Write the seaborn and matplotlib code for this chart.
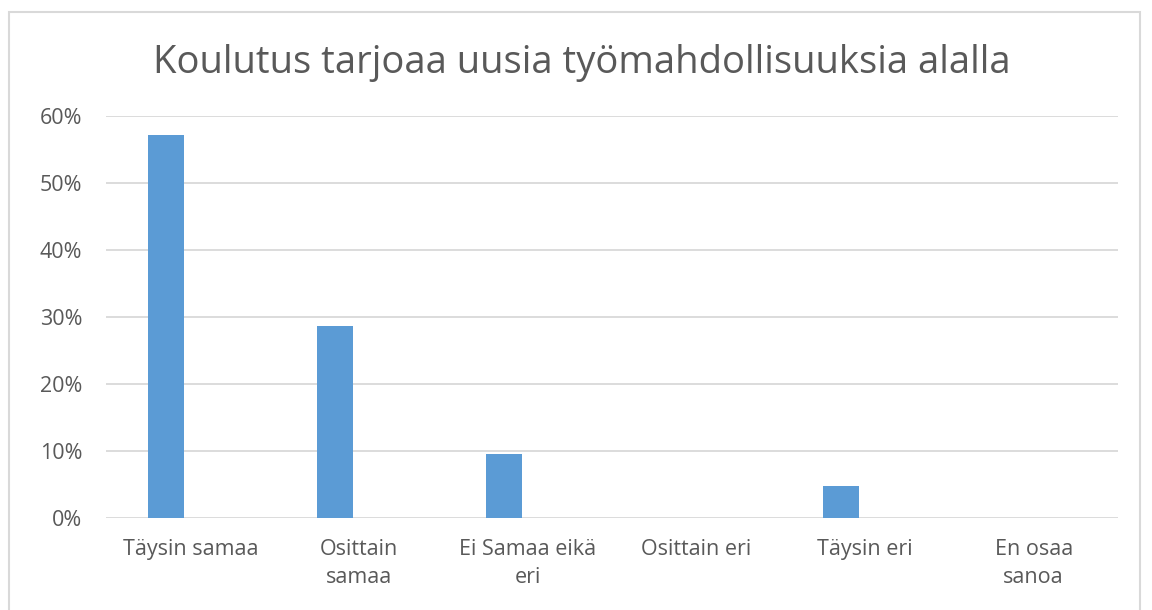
"""
Koulutus tarjoaa uusia työmahdollisuuksia alalla — pylväskaavio.
"""

import matplotlib.pyplot as plt
import pandas as pd
import seaborn as sns
from matplotlib.patches import Rectangle
from matplotlib.ticker import FuncFormatter

categories = ["Täysin samaa", "Osittain samaa", "Ei Samaa eikä eri",
              "Osittain eri", "Täysin eri", "En osaa sanoa"]
tick_labels = ["Täysin samaa", "Osittain\nsamaa", "Ei Samaa eikä\neri",
               "Osittain eri", "Täysin eri", "En osaa\nsanoa"]
values = [0.571, 0.286, 0.095, 0.0, 0.048, 0.0]
# Excelin toinen (tyhjä) sarja siirtää pylväät vasemmalle
empty_series = [0.0, 0.0, 0.0, 0.0, 0.0, 0.0]
y_ticks = [0.0, 0.1, 0.2, 0.3, 0.4, 0.5, 0.6]

TITLE = "Koulutus tarjoaa uusia työmahdollisuuksia alalla"
GRAY = "#595959"

sns.set_theme(style="white")
plt.rcParams["font.family"] = ["Open Sans", "DejaVu Sans"]

df = pd.DataFrame({
    "kategoria": categories * 2,
    "osuus": values + empty_series,
    "sarja": ["A"] * len(categories) + ["B"] * len(categories),
})

fig = plt.figure(figsize=(11.52, 6.10), dpi=100)
ax = fig.add_axes([0.092, 0.1508, 0.8785, 0.659])

sns.barplot(
    data=df, x="kategoria", y="osuus", hue="sarja", hue_order=["A", "B"],
    order=categories, palette=["#5b9bd5", "#ffffff"], saturation=1,
    width=0.57, gap=0.25, linewidth=0, errorbar=None, legend=False, ax=ax,
)

ax.set_ylim(0, 0.6)
ax.set_xlim(-0.5, len(categories) - 0.5)
ax.set_yticks(y_ticks)
ax.yaxis.set_major_formatter(FuncFormatter(lambda v, _: f"{v:.0%}"))
ax.set_xticks(range(len(categories)))
ax.set_xticklabels(tick_labels, fontsize=15.5, color=GRAY, linespacing=1.45)
ax.tick_params(axis="y", labelsize=15.5, labelcolor=GRAY, length=0, pad=17)
ax.tick_params(axis="x", length=0, pad=15)
ax.yaxis.grid(True, color="#d9d9d9", linewidth=1.3)
ax.set_axisbelow(True)
for s in ax.spines.values():
    s.set_visible(False)
ax.set_xlabel("")
ax.set_ylabel("")

fig.text(0.505, 0.896, TITLE, ha="center", va="center", fontsize=27.5,
         color=GRAY)

# kaavioalueen reunus
fig.patches.append(Rectangle((0.0078, -0.05), 0.9818, 1.0303,
                             transform=fig.transFigure, fill=False,
                             edgecolor="#d9d9d9", linewidth=1.5))

fig.savefig("out.png", dpi=100)
